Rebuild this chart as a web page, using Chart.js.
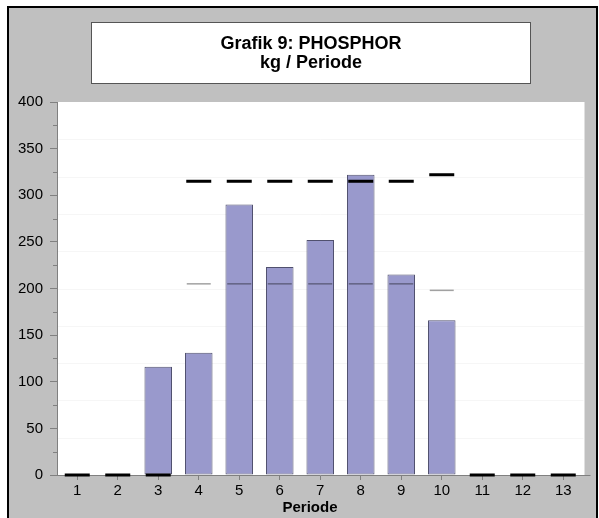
<!DOCTYPE html>
<html><head><meta charset="utf-8">
<script src="https://cdn.jsdelivr.net/npm/chart.js@4/dist/chart.umd.min.js"></script>
<style>html,body{margin:0;padding:0;background:#fff;overflow:hidden}#c{display:block}</style>
</head><body>
<canvas id="c" width="599" height="518"></canvas>
<script>
// ---- data ----
const categories = ['1','2','3','4','5','6','7','8','9','10','11','12','13'];
const phosphorKg = [null, null, 116, 131, 290, 223, 252, 322, 215, 166, null, null, null];
const upperLimit = [0, 0, 0, 315, 315, 315, 315, 315, 315, 322, 0, 0, 0];
const lowerLimit = [null, null, null, 205, 205, 205, 205, 205, 205, 198, null, null, null];
const titleLines = ['Grafik 9: PHOSPHOR', 'kg / Periode'];
const xAxisTitle = 'Periode';
const yMin = 0, yMax = 400, yStep = 50, yMinorStep = 25, gridStep = 40;

const FONT = "'Liberation Sans', Arial, sans-serif";
const AXIS = '#808080';

const framePlugin = {
  id: 'frame',
  beforeDraw(chart) {
    const ctx = chart.ctx, a = chart.chartArea, y = chart.scales.y;
    ctx.save();
    ctx.fillStyle = '#fff'; ctx.fillRect(0, 0, 599, 518);
    ctx.fillStyle = '#c0c0c0'; ctx.fillRect(8, 7, 589, 530);
    ctx.strokeStyle = '#000'; ctx.lineWidth = 2; ctx.strokeRect(8, 7, 589, 540);
    // title box
    ctx.fillStyle = '#fff'; ctx.fillRect(91, 22, 439, 61);
    ctx.strokeStyle = '#555'; ctx.lineWidth = 1; ctx.strokeRect(91.5, 22.5, 439, 61);
    // plot area
    ctx.fillStyle = '#fff'; ctx.fillRect(a.left, a.top, a.right - a.left + 1, a.bottom - a.top);
    // faint grid
    ctx.strokeStyle = '#f6f6f6'; ctx.lineWidth = 1;
    for (let v = gridStep; v < yMax; v += gridStep) {
      const p = Math.round(y.getPixelForValue(v)) + 0.5;
      ctx.beginPath(); ctx.moveTo(a.left, p); ctx.lineTo(a.right, p); ctx.stroke();
    }
    // title text
    ctx.fillStyle = '#000';
    ctx.font = 'bold 18px ' + FONT;
    ctx.textAlign = 'center'; ctx.textBaseline = 'alphabetic';
    titleLines.forEach((t, i) => ctx.fillText(t, 311, 49 + i * 19));
    ctx.restore();
  },
  afterDraw(chart) {
    const ctx = chart.ctx, a = chart.chartArea, y = chart.scales.y;
    ctx.save();
    ctx.strokeStyle = AXIS; ctx.lineWidth = 1;
    for (let v = yMinorStep; v < yMax; v += yStep) {
      const p = Math.round(y.getPixelForValue(v)) + 0.5;
      ctx.beginPath(); ctx.moveTo(a.left - 4, p); ctx.lineTo(a.left, p); ctx.stroke();
    }
    const z = Math.round(y.getPixelForValue(0)) + 0.5;
    ctx.beginPath(); ctx.moveTo(a.right - 1, z); ctx.lineTo(a.right + 7, z); ctx.stroke();
    ctx.fillStyle = '#000';
    ctx.font = 'bold 15px ' + FONT;
    ctx.textAlign = 'center'; ctx.textBaseline = 'alphabetic';
    ctx.fillText(xAxisTitle, 310, 512);
    ctx.restore();
  }
};

new Chart(document.getElementById('c'), {
  data: {
    labels: categories,
    datasets: [
      {
        type: 'line', label: 'Obergrenze', data: upperLimit, order: 1,
        showLine: false, pointStyle: 'line', pointRadius: 12.5, pointHoverRadius: 12.5,
        pointBorderWidth: 3, pointHoverBorderWidth: 3,
        borderColor: '#000', pointBorderColor: '#000', clip: false
      },
      {
        type: 'line', label: 'Mittel', data: lowerLimit, order: 2,
        showLine: false, pointStyle: 'line', pointRadius: 12, pointHoverRadius: 12,
        pointBorderWidth: 1.5, pointHoverBorderWidth: 1.5,
        borderColor: 'rgba(0,0,0,0.37)', pointBorderColor: 'rgba(0,0,0,0.37)', clip: false
      },
      {
        type: 'bar', label: 'Phosphor', data: phosphorKg, order: 3,
        backgroundColor: '#9999cc', borderColor: '#50506e', borderWidth: 1,
        borderSkipped: false, barPercentage: 0.68, categoryPercentage: 1
      }
    ]
  },
  options: {
    responsive: false, animation: false,
    events: [],
    layout: { padding: { top: 102, left: 0, right: 13, bottom: 0 } },
    plugins: {
      legend: { display: false },
      tooltip: { enabled: false },
      title: { display: false }
    },
    scales: {
      x: {
        offset: true,
        grid: { display: true, drawOnChartArea: false, drawTicks: true, tickLength: 5, color: AXIS, offset: false },
        border: { display: true, color: AXIS },
        ticks: { color: '#000', font: { family: FONT, size: 15 }, padding: 2, maxRotation: 0, autoSkip: false },
        afterFit(s) { s.height = 43; }
      },
      y: {
        min: yMin, max: yMax,
        grid: { display: true, drawOnChartArea: false, drawTicks: true, tickLength: 7, color: AXIS },
        border: { display: true, color: AXIS },
        ticks: { stepSize: yStep, color: '#000', font: { family: FONT, size: 15 }, padding: 7 },
        afterFit(s) { s.width = 57; }
      }
    }
  },
  plugins: [framePlugin]
});
</script>
</body></html>
